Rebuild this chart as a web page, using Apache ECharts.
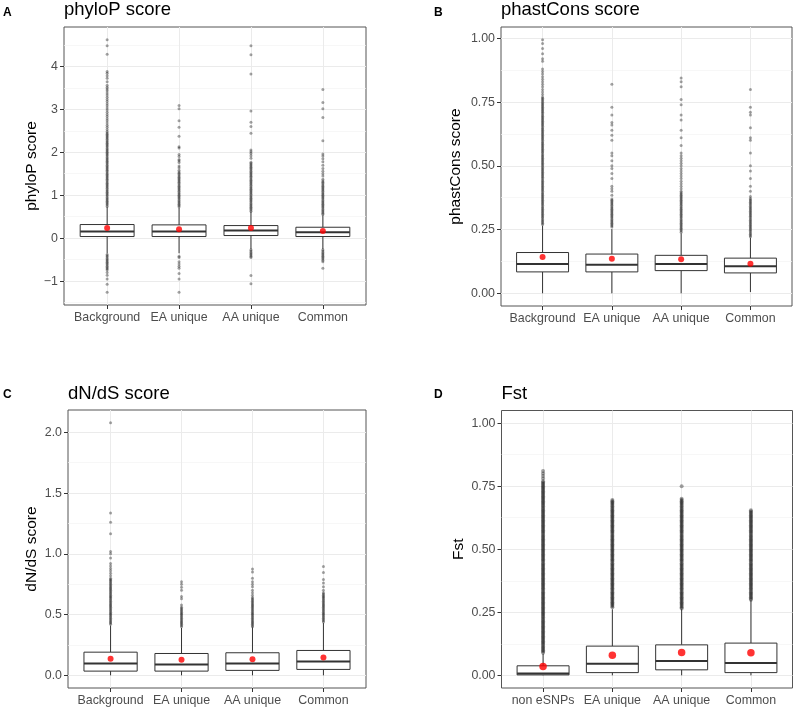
<!DOCTYPE html>
<html><head><meta charset="utf-8">
<script src="https://cdn.jsdelivr.net/npm/echarts@6/dist/echarts.min.js"></script>
<style>html,body{margin:0;padding:0;background:#fff}#c{width:793px;height:707px}</style>
</head><body><div id="c"></div>
<script>
// ---------- categories ----------
const catsABC = ['Background', 'EA unique', 'AA unique', 'Common'];
const catsD = ['non eSNPs', 'EA unique', 'AA unique', 'Common'];

// ---------- tick values ----------
const phyloPTicks = [-1, 0, 1, 2, 3, 4];
const phyloPMinor = [-1.5, -0.5, 0.5, 1.5, 2.5, 3.5, 4.5];
const phastTicks = [0, 0.25, 0.5, 0.75, 1];
const phastMinor = [0.125, 0.375, 0.625, 0.875];
const dndsTicks = [0, 0.5, 1, 1.5, 2];
const dndsMinor = [0.25, 0.75, 1.25, 1.75];
const fstTicks = [0, 0.25, 0.5, 0.75, 1];
const fstMinor = [0.125, 0.375, 0.625, 0.875];

// ---------- A: phyloP ----------
const phyloPQ1 = [0.039, 0.039, 0.062, 0.039];
const phyloPMed = [0.155, 0.155, 0.178, 0.139];
const phyloPQ3 = [0.318, 0.31, 0.294, 0.255];
const phyloPLo = [-0.35, -0.35, -0.25, -0.25];
const phyloPHi = [0.72, 0.71, 0.62, 0.53];
const phyloPMean = [0.239, 0.209, 0.239, 0.17];
const phyloPOutBackground = [0.74,0.77,0.8,0.83,0.86,0.89,0.92,0.95,0.98,1.01,1.04,1.07,1.1,1.13,1.16,1.19,1.22,1.25,1.28,1.31,1.34,1.37,1.4,1.43,1.46,1.49,1.52,1.55,1.58,1.61,1.64,1.67,1.7,1.73,1.76,1.79,1.82,1.85,1.88,1.91,1.94,1.97,2.0,2.03,2.06,2.09,2.12,2.15,2.18,2.21,2.24,2.27,2.3,2.33,2.36,2.39,2.42,2.45,2.48,
  2.53,2.58,2.63,2.68,2.73,2.78,2.83,2.88,2.93,2.98,3.03,3.08,3.13,3.18,3.23,3.28,3.33,3.38,3.43,3.47,3.51,3.56,3.64,3.72,3.78,3.84,3.88,4.28,4.48,4.62,
  -0.38,-0.41,-0.44,-0.47,-0.5,-0.53,-0.56,-0.59,-0.62,-0.65,-0.68,-0.71,-0.74,-0.8,-0.86,-0.95,-1.07,-1.26];
const phyloPOutEA = [0.73,0.76,0.79,0.82,0.85,0.88,0.91,0.94,0.97,1.0,1.03,1.06,1.09,1.12,1.15,1.18,1.21,1.24,1.27,1.3,1.33,1.36,1.39,1.42,1.45,1.48,1.51,1.54,1.58,1.64,1.68,1.76,1.8,1.83,1.9,1.95,2.1,2.13,2.37,2.58,2.73,3.01,3.09,
  -0.42,-0.45,-0.55,-0.6,-0.65,-0.7,-0.82,-0.95,-1.26];
const phyloPOutAA = [0.63,0.66,0.69,0.72,0.75,0.78,0.81,0.84,0.87,0.9,0.93,0.96,0.99,1.02,1.05,1.08,1.11,1.14,1.17,1.2,1.23,1.26,1.29,1.32,1.35,1.38,1.41,1.44,1.47,1.5,1.53,1.56,1.59,1.62,1.65,1.68,1.71,1.74,1.77,1.86,1.92,1.97,2.01,2.05,2.44,2.6,2.7,2.96,3.82,4.27,4.48,
  -0.27,-0.3,-0.33,-0.36,-0.39,-0.42,-0.45,-0.87,-1.06];
const phyloPOutCommon = [0.55,0.58,0.61,0.64,0.67,0.7,0.73,0.76,0.79,0.82,0.85,0.88,0.91,0.94,0.97,1.0,1.03,1.06,1.09,1.12,1.15,1.18,1.21,1.24,1.27,1.3,1.33,1.37,1.45,1.5,1.56,1.62,1.7,1.78,1.85,1.91,1.96,2.27,2.81,3.01,3.16,3.46,
  -0.27,-0.3,-0.33,-0.36,-0.39,-0.42,-0.45,-0.48,-0.51,-0.55,-0.7];

// ---------- B: phastCons ----------
const phastQ1 = [0.084, 0.084, 0.089, 0.080];
const phastMed = [0.115, 0.112, 0.115, 0.106];
const phastQ3 = [0.160, 0.154, 0.149, 0.138];
const phastLo = [0, 0, 0, 0.005];
const phastHi = [0.265, 0.252, 0.235, 0.218];
const phastMean = [0.142, 0.136, 0.134, 0.116];
const phastOutBackground = [0.27,0.275,0.28,0.285,0.29,0.295,0.3,0.305,0.31,0.315,0.32,0.325,0.33,0.335,0.34,0.345,0.35,0.355,0.36,0.365,0.37,0.375,0.38,0.385,0.39,0.395,0.4,0.405,0.41,0.415,0.42,0.425,0.43,0.435,0.44,0.445,0.45,0.455,0.46,0.465,0.47,0.475,0.48,0.485,0.49,0.495,0.5,0.505,0.51,0.515,0.52,0.525,0.53,0.535,0.54,0.545,0.55,0.555,0.56,0.565,0.57,0.575,0.58,0.585,0.59,0.595,0.6,0.605,0.61,0.615,0.62,0.625,0.63,0.635,0.64,0.645,0.65,0.655,0.66,0.665,0.67,0.675,0.68,0.685,0.69,0.695,0.7,0.705,0.71,0.715,0.72,0.725,0.73,0.735,0.74,0.745,0.75,0.755,0.76,0.765,0.77,
  0.78,0.79,0.8,0.81,0.82,0.83,0.84,0.85,0.86,0.87,0.88,0.91,0.92,0.94,0.96,0.98,0.995];
const phastOutEA = [0.26,0.265,0.27,0.275,0.28,0.285,0.29,0.295,0.3,0.305,0.31,0.315,0.32,0.325,0.33,0.335,0.34,0.345,0.35,0.355,0.36,0.365,0.37,0.385,0.4,0.41,0.42,0.45,0.47,0.49,0.5,0.52,0.54,0.55,0.6,0.62,0.64,0.66,0.67,0.7,0.73,0.82];
const phastOutAA = [0.24,0.245,0.25,0.255,0.26,0.265,0.27,0.275,0.28,0.285,0.29,0.295,0.3,0.305,0.31,0.315,0.32,0.325,0.33,0.335,0.34,0.345,0.35,0.355,0.36,0.365,0.37,0.375,0.38,0.385,0.39,0.395,0.4,0.41,0.42,0.43,0.44,0.45,0.46,0.47,0.48,0.49,0.5,0.51,0.52,0.53,0.54,0.55,0.58,0.61,0.64,0.68,0.7,0.74,0.76,0.81,0.83,0.845];
const phastOutCommon = [0.222,0.227,0.232,0.237,0.242,0.247,0.252,0.257,0.262,0.267,0.272,0.277,0.282,0.287,0.292,0.297,0.302,0.307,0.312,0.317,0.322,0.327,0.332,0.337,0.342,0.347,0.352,0.357,0.362,0.367,0.372,0.38,0.4,0.42,0.45,0.48,0.5,0.55,0.6,0.61,0.65,0.7,0.71,0.73,0.8];

// ---------- C: dN/dS ----------
const dndsQ1 = [0.035, 0.035, 0.041, 0.049];
const dndsMed = [0.098, 0.090, 0.098, 0.115];
const dndsQ3 = [0.191, 0.180, 0.186, 0.205];
const dndsLo = [0, 0, 0, 0];
const dndsHi = [0.41, 0.39, 0.395, 0.43];
const dndsMean = [0.137, 0.128, 0.133, 0.148];
const dndsOutBackground = [0.42,0.43,0.44,0.45,0.46,0.47,0.48,0.49,0.5,0.51,0.52,0.53,0.54,0.55,0.56,0.57,0.58,0.59,0.6,0.61,0.62,0.63,0.64,0.65,0.66,0.67,0.68,0.69,0.7,0.71,0.72,0.73,0.74,0.75,0.76,0.77,0.78,0.79,0.8,0.82,0.84,0.86,0.88,0.9,0.92,0.965,1.0,1.02,1.166,1.26,1.336,2.08];
const dndsOutEA = [0.40,0.41,0.42,0.43,0.44,0.45,0.46,0.47,0.48,0.49,0.5,0.51,0.52,0.53,0.54,0.55,0.56,0.58,0.63,0.65,0.7,0.725,0.75,0.77];
const dndsOutAA = [0.40,0.41,0.42,0.43,0.44,0.45,0.46,0.47,0.48,0.49,0.5,0.51,0.52,0.53,0.54,0.55,0.56,0.57,0.58,0.59,0.6,0.61,0.62,0.63,0.64,0.66,0.68,0.7,0.73,0.75,0.77,0.8,0.85,0.875];
const dndsOutCommon = [0.44,0.45,0.46,0.47,0.48,0.49,0.5,0.51,0.52,0.53,0.54,0.55,0.56,0.57,0.58,0.59,0.6,0.61,0.62,0.63,0.64,0.65,0.66,0.67,0.68,0.7,0.73,0.76,0.79,0.847,0.896];

// ---------- D: Fst ----------
const fstQ1 = [0.002, 0.011, 0.022, 0.011];
const fstMed = [0.007, 0.046, 0.057, 0.049];
const fstQ3 = [0.038, 0.116, 0.121, 0.128];
const fstLo = [0, 0, 0, 0];
const fstHi = [0.085, 0.262, 0.262, 0.298];
const fstMean = [0.035, 0.080, 0.091, 0.090];
const fstOutNonESNP = [0.09,0.095,0.1,0.105,0.11,0.115,0.12,0.125,0.13,0.135,0.14,0.145,0.15,0.155,0.16,0.165,0.17,0.175,0.18,0.185,0.19,0.195,0.2,0.205,0.21,0.215,0.22,0.225,0.23,0.235,0.24,0.245,0.25,0.255,0.26,0.265,0.27,0.275,0.28,0.285,0.29,0.295,0.3,0.305,0.31,0.315,0.32,0.325,0.33,0.335,0.34,0.345,0.35,0.355,0.36,0.365,0.37,0.375,0.38,0.385,0.39,0.395,0.4,0.405,0.41,0.415,0.42,0.425,0.43,0.435,0.44,0.445,0.45,0.455,0.46,0.465,0.47,0.475,0.48,0.485,0.49,0.495,0.5,0.505,0.51,0.515,0.52,0.525,0.53,0.535,0.54,0.545,0.55,0.555,0.56,0.565,0.57,0.575,0.58,0.585,0.59,0.595,0.6,0.605,0.61,0.615,0.62,0.625,0.63,0.635,0.64,0.645,0.65,0.655,0.66,0.665,0.67,0.675,0.68,0.685,0.69,0.695,0.7,0.705,0.71,0.715,0.72,0.725,0.73,0.735,0.74,0.745,0.75,0.755,0.76,0.765,0.77,0.78,0.79,0.8,0.81];
const fstOutEA = [0.27,0.275,0.28,0.285,0.29,0.295,0.3,0.305,0.31,0.315,0.32,0.325,0.33,0.335,0.34,0.345,0.35,0.355,0.36,0.365,0.37,0.375,0.38,0.385,0.39,0.395,0.4,0.405,0.41,0.415,0.42,0.425,0.43,0.435,0.44,0.445,0.45,0.455,0.46,0.465,0.47,0.475,0.48,0.485,0.49,0.495,0.5,0.505,0.51,0.515,0.52,0.525,0.53,0.535,0.54,0.545,0.55,0.555,0.56,0.565,0.57,0.575,0.58,0.585,0.59,0.595,0.6,0.605,0.61,0.615,0.62,0.625,0.63,0.635,0.64,0.645,0.65,0.655,0.66,0.665,0.67,0.675,0.68,0.685,0.69,0.695];
const fstOutAA = [0.265,0.27,0.275,0.28,0.285,0.29,0.295,0.3,0.305,0.31,0.315,0.32,0.325,0.33,0.335,0.34,0.345,0.35,0.355,0.36,0.365,0.37,0.375,0.38,0.385,0.39,0.395,0.4,0.405,0.41,0.415,0.42,0.425,0.43,0.435,0.44,0.445,0.45,0.455,0.46,0.465,0.47,0.475,0.48,0.485,0.49,0.495,0.5,0.505,0.51,0.515,0.52,0.525,0.53,0.535,0.54,0.545,0.55,0.555,0.56,0.565,0.57,0.575,0.58,0.585,0.59,0.595,0.6,0.605,0.61,0.615,0.62,0.625,0.63,0.635,0.64,0.645,0.65,0.655,0.66,0.665,0.67,0.675,0.68,0.685,0.69,0.695,0.7,0.75];
const fstOutCommon = [0.3,0.305,0.31,0.315,0.32,0.325,0.33,0.335,0.34,0.345,0.35,0.355,0.36,0.365,0.37,0.375,0.38,0.385,0.39,0.395,0.4,0.405,0.41,0.415,0.42,0.425,0.43,0.435,0.44,0.445,0.45,0.455,0.46,0.465,0.47,0.475,0.48,0.485,0.49,0.495,0.5,0.505,0.51,0.515,0.52,0.525,0.53,0.535,0.54,0.545,0.55,0.555,0.56,0.565,0.57,0.575,0.58,0.585,0.59,0.595,0.6,0.605,0.61,0.615,0.62,0.625,0.63,0.635,0.64,0.645,0.65,0.655];

// ---------- panel setup ----------
const FONT = '"Liberation Sans", Arial, Helvetica, sans-serif';
const fmtA = v => v < 0 ? '\u2212' + Math.abs(v) : String(v);
const fmt2 = v => v.toFixed(2);
const fmt1 = v => v.toFixed(1);

const panels = [
  { tag: 'A', tagX: 3, tagY: 13, title: 'phyloP score', titleY: 9.5, yName: 'phyloP score', cats: catsABC,
    grid: { left: 64, top: 27, width: 302, height: 278 }, yMin: -1.554, yMax: 4.914, nameGap: 24,
    ticks: phyloPTicks, minor: phyloPMinor, fmt: fmtA, q1: phyloPQ1, med: phyloPMed, q3: phyloPQ3, lo: phyloPLo, hi: phyloPHi,
    mean: phyloPMean, out: [phyloPOutBackground, phyloPOutEA, phyloPOutAA, phyloPOutCommon], ptSize: 3, meanSize: 6 },
  { tag: 'B', tagX: 434, tagY: 13, title: 'phastCons score', titleY: 9.5, yName: 'phastCons score', cats: catsABC,
    grid: { left: 501, top: 27, width: 291, height: 279 }, yMin: -0.0498, yMax: 1.0448, nameGap: 37,
    ticks: phastTicks, minor: phastMinor, fmt: fmt2, q1: phastQ1, med: phastMed, q3: phastQ3, lo: phastLo, hi: phastHi,
    mean: phastMean, out: [phastOutBackground, phastOutEA, phastOutAA, phastOutCommon], ptSize: 3, meanSize: 6 },
  { tag: 'C', tagX: 3, tagY: 395, title: 'dN/dS score', titleY: 393.5, yName: 'dN/dS score', cats: catsABC,
    grid: { left: 68, top: 410, width: 298, height: 278 }, yMin: -0.104, yMax: 2.184, nameGap: 28,
    ticks: dndsTicks, minor: dndsMinor, fmt: fmt1, q1: dndsQ1, med: dndsMed, q3: dndsQ3, lo: dndsLo, hi: dndsHi,
    mean: dndsMean, out: [dndsOutBackground, dndsOutEA, dndsOutAA, dndsOutCommon], ptSize: 3, meanSize: 6 },
  { tag: 'D', tagX: 434, tagY: 395, title: 'Fst', titleY: 393.5, yName: 'Fst', cats: catsD,
    grid: { left: 501.5, top: 410.5, width: 291, height: 278 }, yMin: -0.05, yMax: 1.05, nameGap: 35,
    ticks: fstTicks, minor: fstMinor, fmt: fmt2, q1: fstQ1, med: fstMed, q3: fstQ3, lo: fstLo, hi: fstHi,
    mean: fstMean, out: [fstOutNonESNP, fstOutEA, fstOutAA, fstOutCommon], ptSize: 4, meanSize: 7.5 }
];

const catPos = [1, 2, 3, 4];

function renderBox(params, api) {
  const x = api.value(0), q1 = api.value(1), md = api.value(2), q3 = api.value(3), lo = api.value(4), hi = api.value(5);
  const hw = 0.375;
  const tl = api.coord([x - hw, q3]), br = api.coord([x + hw, q1]);
  const ml = api.coord([x - hw, md]), mr = api.coord([x + hw, md]);
  const c3 = api.coord([x, q3]), cH = api.coord([x, hi]), c1 = api.coord([x, q1]), cL = api.coord([x, lo]);
  const st = { stroke: '#333', lineWidth: 1, fill: null };
  return { type: 'group', children: [
    { type: 'line', shape: { x1: c3[0], y1: c3[1], x2: cH[0], y2: cH[1] }, style: st },
    { type: 'line', shape: { x1: c1[0], y1: c1[1], x2: cL[0], y2: cL[1] }, style: st },
    { type: 'rect', shape: { x: tl[0], y: tl[1], width: br[0] - tl[0], height: br[1] - tl[1] }, style: { fill: '#fff', stroke: '#333', lineWidth: 1 } },
    { type: 'line', shape: { x1: ml[0], y1: ml[1], x2: mr[0], y2: mr[1] }, style: { stroke: '#333', lineWidth: 2 } }
  ]};
}

const grids = [], xAxes = [], yAxes = [], series = [], graphics = [];
panels.forEach((p, i) => {
  grids.push(Object.assign({ show: true, borderColor: '#555', borderWidth: 1, backgroundColor: '#fff', containLabel: false }, p.grid));
  xAxes.push({
    type: 'value', gridIndex: i, min: 0.4, max: 4.6,
    axisLine: { show: false, onZero: false },
    axisTick: { show: true, length: 4, customValues: catPos, lineStyle: { color: '#333', width: 1 } },
    axisLabel: { customValues: catPos, formatter: v => p.cats[Math.round(v) - 1], color: '#4d4d4d', fontSize: 12.4, margin: 7, fontFamily: FONT },
    splitLine: { show: true, lineStyle: { color: '#ebebeb', width: 1 } }
  });
  yAxes.push({
    type: 'value', gridIndex: i, min: p.yMin, max: p.yMax, position: 'left',
    axisLine: { show: false, onZero: false },
    axisTick: { show: true, length: 4, customValues: p.ticks, lineStyle: { color: '#333', width: 1 } },
    axisLabel: { customValues: p.ticks, formatter: p.fmt, color: '#4d4d4d', fontSize: 12.4, margin: 6, fontFamily: FONT },
    splitLine: { show: true, lineStyle: { color: '#ebebeb', width: 1 } },
    name: p.yName, nameLocation: 'middle', nameGap: p.nameGap, nameRotate: 90,
    nameTextStyle: { color: '#000', fontSize: 15.5, fontFamily: FONT }
  });
  yAxes.push({
    type: 'value', gridIndex: i, min: p.yMin, max: p.yMax, position: 'left', offset: 0,
    axisLine: { show: false, onZero: false },
    axisTick: { show: false, customValues: p.minor },
    axisLabel: { show: false },
    splitLine: { show: true, lineStyle: { color: '#f3f3f3', width: 0.7 } }
  });
  const yIdx = 2 * i;
  series.push({
    type: 'custom', xAxisIndex: i, yAxisIndex: yIdx, renderItem: renderBox, clip: false, silent: true,
    encode: { x: 0, y: [1, 2, 3, 4, 5] },
    data: catPos.map((c, k) => [c, p.q1[k], p.med[k], p.q3[k], p.lo[k], p.hi[k]]), z: 2
  });
  const outPts = [];
  p.out.forEach((arr, k) => arr.forEach(v => outPts.push([catPos[k], v])));
  series.push({
    type: 'scatter', xAxisIndex: i, yAxisIndex: yIdx, data: outPts, symbolSize: p.ptSize, silent: true,
    large: false, itemStyle: { color: 'rgba(0,0,0,0.45)' }, z: 3
  });
  series.push({
    type: 'scatter', xAxisIndex: i, yAxisIndex: yIdx, data: catPos.map((c, k) => [c, p.mean[k]]),
    symbolSize: p.meanSize, silent: true, itemStyle: { color: '#ff0000' }, z: 4
  });
  graphics.push({ type: 'text', x: p.tagX, y: p.tagY, style: { text: p.tag, fill: '#000', font: 'bold 12px ' + FONT, verticalAlign: 'middle', textVerticalAlign: 'middle' } });
  graphics.push({ type: 'text', x: p.grid.left, y: p.titleY, style: { text: p.title, fill: '#000', font: '18.5px ' + FONT, verticalAlign: 'middle', textVerticalAlign: 'middle' } });
});

const chart = echarts.init(document.getElementById('c'), null, { renderer: 'canvas' });
chart.setOption({
  animation: false,
  backgroundColor: '#fff',
  textStyle: { fontFamily: FONT },
  grid: grids, xAxis: xAxes, yAxis: yAxes, series: series, graphic: graphics
});
</script>
</body></html>
